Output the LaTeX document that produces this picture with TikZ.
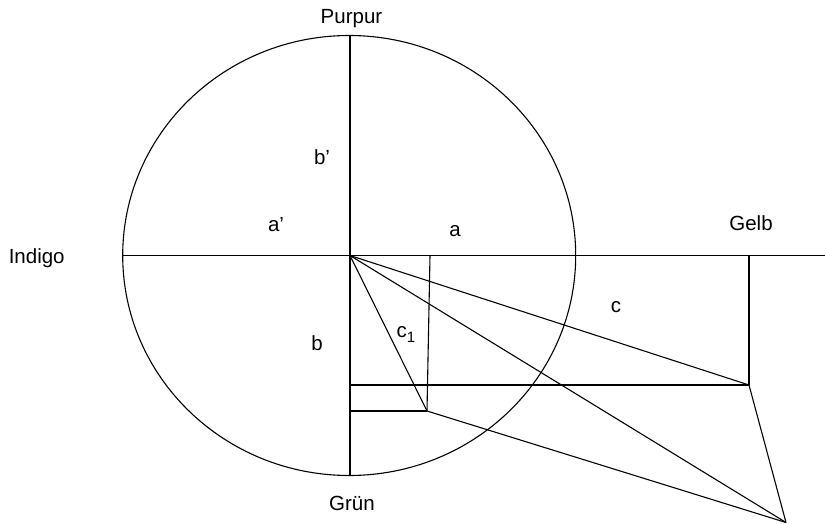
\documentclass[tikz,border=0pt]{standalone}
\usepackage{fontspec}
\setmainfont{Liberation Sans}
\begin{document}
\begin{tikzpicture}[x=1pt,y=-1pt,
  geo/.style={line width=1.1pt, line join=round},
  lbl/.style={anchor=base, inner sep=0pt, font=\fontsize{20.5}{24}\selectfont}]
\useasboundingbox (0,0) rectangle (825,524);
% key points
\coordinate (O) at (350,255.5);
\coordinate (L) at (122.7,255.5);
\coordinate (R) at (825,255.5);
\coordinate (Top) at (350,35);
\coordinate (Bot) at (350,475);
\coordinate (A) at (430,255.5);
\coordinate (P) at (427,411);
\coordinate (Gt) at (749,255.5);
\coordinate (G) at (749,385);
\coordinate (T) at (786,522.5);
\coordinate (Bg) at (350,385);
\coordinate (Bp) at (350,411);
% circle
\draw[geo] (349.2,255.5) ellipse [x radius=226.5, y radius=220];
% axes
\draw[geo] (L) -- (R);
\draw[geo] (Top) -- (Bot);
% construction
\draw[geo] (A) -- (P);
\draw[geo] (Gt) -- (G);
\draw[geo] (Bg) -- (G);
\draw[geo] (Bp) -- (P);
\draw[geo] (O) -- (P);
\draw[geo] (O) -- (G);
\draw[geo] (O) -- (T);
\draw[geo] (G) -- (T);
\draw[geo] (P) -- (T);
% labels
\node[lbl] (purpur) at (351.5,23.3) {Purpur};
\node[lbl] (gruen) at (352,510) {Grün};
\node[lbl] (indigo) at (36.7,263.3) {Indigo};
\node[lbl] (gelb) at (751,230) {Gelb};
\node[lbl] (ap) at (276,231.7) {a’};
\node[lbl] (a) at (455,236) {a};
\node[lbl] (bp) at (322,165) {b’};
\node[lbl] (b) at (317,350) {b};
\node[lbl] (c1) at (406,337) {c\raisebox{-5pt}{\fontsize{15}{15}\selectfont 1}};
\node[lbl] (c) at (616,312) {c};
\end{tikzpicture}
\end{document}
